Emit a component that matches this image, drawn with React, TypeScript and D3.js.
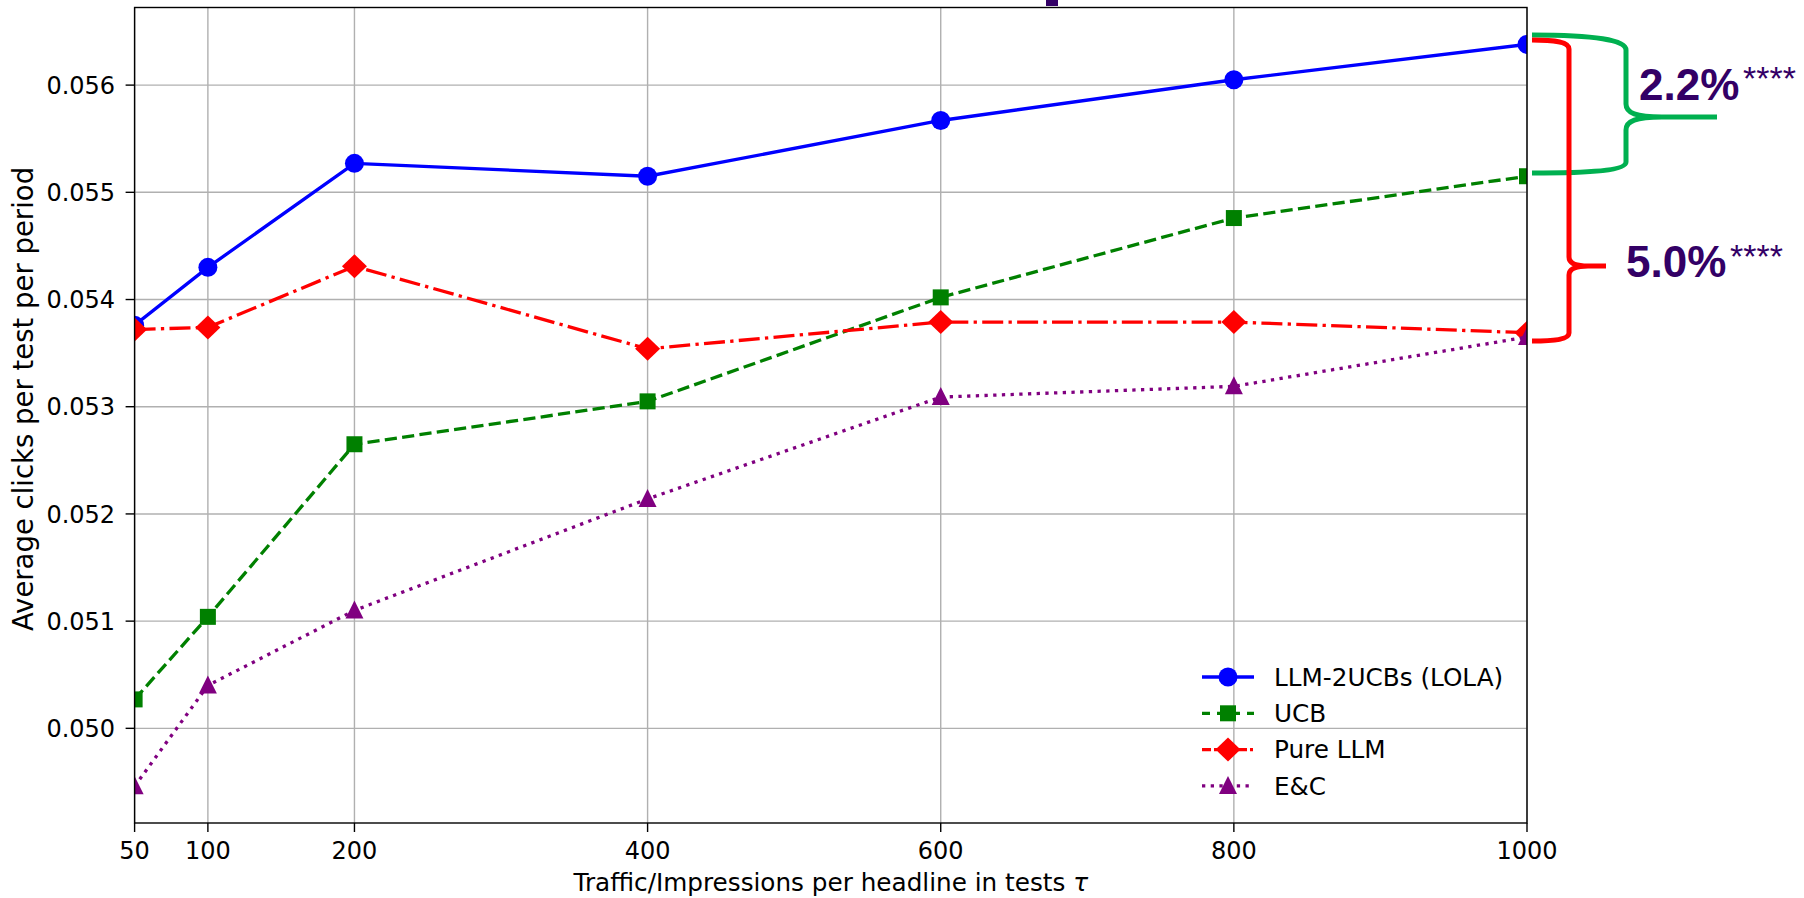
import React from "react";
import * as d3 from "d3";

const xValues = [50, 100, 200, 400, 600, 800, 1000];
const lolaValues = [0.05376, 0.0543, 0.05527, 0.05515, 0.05567, 0.05605, 0.05638];
const ucbValues = [0.05027, 0.05104, 0.05265, 0.05305, 0.05402, 0.05476, 0.05515];
const pureValues = [0.05372, 0.05374, 0.05431, 0.05354, 0.05379, 0.05379, 0.05369];
const ecValues = [0.04946, 0.0504, 0.0511, 0.05214, 0.05309, 0.05319, 0.05365];
const yTicks = [0.05, 0.051, 0.052, 0.053, 0.054, 0.055, 0.056];
const xTicks = [50, 100, 200, 400, 600, 800, 1000];
const seriesNames = ["LLM-2UCBs (LOLA)", "UCB", "Pure LLM", "E&C"];

const W = 1804;
const H = 898;
const L = 134.6, R = 1527, T = 7.5, B = 823;
const FONT = "'DejaVu Sans', sans-serif";

type Marker = "circle" | "square" | "diamond" | "triangle";
interface Series { name: string; values: number[]; color: string; dash: string; legendDash: string; marker: Marker; }

const series: Series[] = [
  { name: seriesNames[0], values: lolaValues, color: "#0000ff", dash: "none", legendDash: "none", marker: "circle" },
  { name: seriesNames[1], values: ucbValues, color: "#008000", dash: "12.2 5.3", legendDash: "8 7", marker: "square" },
  { name: seriesNames[2], values: pureValues, color: "#ff0000", dash: "21 5.3 3.3 5.3", legendDash: "9 3 3 3", marker: "diamond" },
  { name: seriesNames[3], values: ecValues, color: "#800080", dash: "3.3 5.4", legendDash: "3.3 5.4", marker: "triangle" },
];

function MarkerShape({ kind, cx, cy, color }: { kind: Marker; cx: number; cy: number; color: string }) {
  if (kind === "circle") return <circle cx={cx} cy={cy} r={9.5} fill={color} />;
  if (kind === "square") return <rect x={cx - 8} y={cy - 8} width={16} height={16} fill={color} />;
  if (kind === "diamond")
    return <path d={`M${cx},${cy - 12} L${cx + 12.5},${cy} L${cx},${cy + 12} L${cx - 12.5},${cy} Z`} fill={color} />;
  return <path d={`M${cx},${cy - 10} L${cx + 9},${cy + 8} L${cx - 9},${cy + 8} Z`} fill={color} />;
}

export default function App() {
  const x = d3.scaleLinear().domain([50, 1000]).range([L, R]);
  const y = d3.scaleLinear().domain([0.049117, 0.056724]).range([B, T]);
  const line = d3
    .line<number>()
    .x((_, i) => x(xValues[i]))
    .y((d) => y(d));

  const legendX = 1202, legendW = 52, legendY0 = 677, legendDy = 36.3;

  return (
    <svg width={W} height={H} style={{ position: "absolute", left: 0, top: 0, background: "#fff" }} fontFamily={FONT}>
      <defs>
        <clipPath id="plotclip">
          <rect x={L} y={T} width={R - L} height={B - T} />
        </clipPath>
      </defs>
      <rect x={0} y={0} width={W} height={H} fill="#fff" />
      {/* grid */}
      <g stroke="#b0b0b0" strokeWidth={1.4}>
        {xTicks.map((t) => (
          <line key={"gx" + t} x1={x(t)} x2={x(t)} y1={T} y2={B} />
        ))}
        {yTicks.map((t) => (
          <line key={"gy" + t} x1={L} x2={R} y1={y(t)} y2={y(t)} />
        ))}
      </g>
      {/* series */}
      <g clipPath="url(#plotclip)">
        {series.map((s) => (
          <g key={s.name}>
            <path d={line(s.values) || ""} fill="none" stroke={s.color} strokeWidth={3.3} strokeDasharray={s.dash} />
            {s.values.map((v, i) => (
              <MarkerShape key={i} kind={s.marker} cx={x(xValues[i])} cy={y(v)} color={s.color} />
            ))}
          </g>
        ))}
      </g>
      {/* spines */}
      <rect x={L} y={T} width={R - L} height={B - T} fill="none" stroke="#000" strokeWidth={1.4} />
      {/* y ticks */}
      <g>
        {yTicks.map((t) => (
          <g key={"ty" + t}>
            <line x1={L - 9} x2={L} y1={y(t)} y2={y(t)} stroke="#000" strokeWidth={1.4} />
            <text x={L - 19.5} y={y(t)} dy="0.36em" textAnchor="end" fontSize={24} fill="#000">
              {d3.format(".3f")(t)}
            </text>
          </g>
        ))}
      </g>
      {/* x ticks */}
      <g>
        {xTicks.map((t) => (
          <g key={"tx" + t}>
            <line x1={x(t)} x2={x(t)} y1={B} y2={B + 9} stroke="#000" strokeWidth={1.4} />
            <text x={x(t)} y={859} textAnchor="middle" fontSize={24} fill="#000">
              {t}
            </text>
          </g>
        ))}
      </g>
      {/* axis labels */}
      <text x={(L + R) / 2} y={891} textAnchor="middle" fontSize={24.7} fill="#000">
        Traffic/Impressions per headline in tests <tspan fontStyle="italic">τ</tspan>
      </text>
      <text
        transform={`translate(33, ${399}) rotate(-90)`}
        textAnchor="middle"
        fontSize={27.5}
        fill="#000"
      >
        Average clicks per test per period
      </text>
      {/* legend */}
      <g>
        {series.map((s, i) => {
          const cy = legendY0 + i * legendDy;
          return (
            <g key={"lg" + s.name}>
              <line x1={legendX} x2={legendX + legendW} y1={cy} y2={cy} stroke={s.color} strokeWidth={3.3} strokeDasharray={s.legendDash} />
              <MarkerShape kind={s.marker} cx={legendX + legendW / 2} cy={cy} color={s.color} />
              <text x={1274} y={cy} dy="0.36em" fontSize={24.7} fill="#000">
                {s.name}
              </text>
            </g>
          );
        })}
      </g>
      {/* annotations */}
      <rect x={1046} y={0} width={12} height={6} fill="#330066" />
      <path
        d="M1532,35 C1595,35 1626,40 1626,50 L1626,104 C1626,113 1636,117 1662,117 L1717,117 M1662,117 C1636,117 1626,121 1626,130 L1626,162 C1626,170 1595,173 1532,173"
        fill="none"
        stroke="#00b050"
        strokeWidth={5}
      />
      <path
        d="M1532,40 C1556,40 1569,42 1569,49 L1569,257 C1569,263 1575,266 1588,266 L1606,266 M1588,266 C1575,266 1569,269 1569,275 L1569,333 C1569,339 1556,341 1532,341"
        fill="none"
        stroke="#ff0000"
        strokeWidth={5}
      />
      <g fontFamily="'Liberation Sans', Arial, sans-serif" fill="#330066">
        <text x={1639} y={100} fontSize={44} fontWeight="bold">2.2%</text>
        <text x={1743} y={90} fontSize={34}>****</text>
        <text x={1626} y={277} fontSize={44} fontWeight="bold">5.0%</text>
        <text x={1730} y={268} fontSize={34}>****</text>
      </g>
    </svg>
  );
}
